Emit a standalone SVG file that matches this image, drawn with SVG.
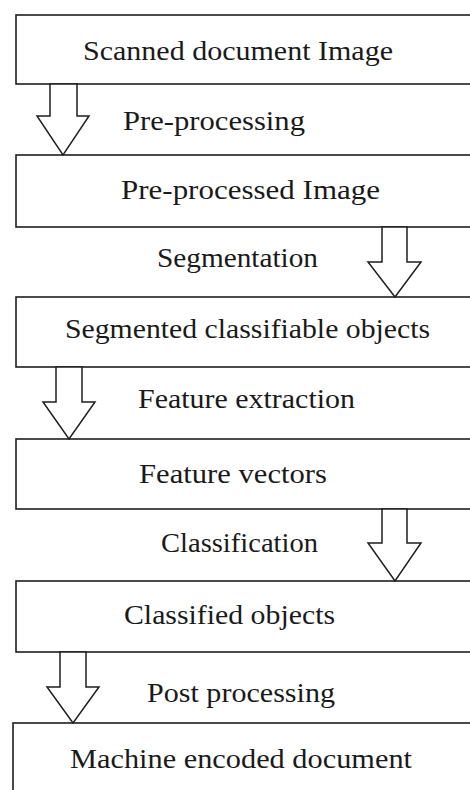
<svg xmlns="http://www.w3.org/2000/svg" width="470" height="790" viewBox="0 0 470 790">
<style>
.box{fill:#fff;stroke:#1e1e1e;stroke-width:1.6}
.arr{fill:#fff;stroke:#1e1e1e;stroke-width:1.5;stroke-linejoin:miter}
.t{font-family:'Liberation Serif',serif;font-size:28px;fill:#1a1a1a}
</style>
<rect width="470" height="790" fill="#fff"/>
<g id="n1"><rect class="box" x="16" y="15" width="470" height="69"/><text class="t" x="83" y="60" textLength="310" lengthAdjust="spacingAndGlyphs">Scanned document Image</text></g>
<g id="n2"><rect class="box" x="16" y="155" width="470" height="72"/><text class="t" x="121" y="199" textLength="259" lengthAdjust="spacingAndGlyphs">Pre-processed Image</text></g>
<g id="n3"><rect class="box" x="16" y="297" width="470" height="70"/><text class="t" x="65" y="338" textLength="365" lengthAdjust="spacingAndGlyphs">Segmented classifiable objects</text></g>
<g id="n4"><rect class="box" x="16" y="439" width="470" height="70"/><text class="t" x="139" y="483" textLength="188" lengthAdjust="spacingAndGlyphs">Feature vectors</text></g>
<g id="n5"><rect class="box" x="16" y="581" width="470" height="71"/><text class="t" x="124" y="624" textLength="211" lengthAdjust="spacingAndGlyphs">Classified objects</text></g>
<g id="n6"><rect class="box" x="13" y="723" width="470" height="80"/><text class="t" x="70" y="768" textLength="342" lengthAdjust="spacingAndGlyphs">Machine encoded document</text></g>
<g id="connectors">
<polygon class="arr" points="50,84 77,84 77,116 89,116 63,155 37,116 50,116"/>
<text class="t" x="123" y="130" textLength="182" lengthAdjust="spacingAndGlyphs">Pre-processing</text>
<polygon class="arr" points="382,227 407,227 407,262 421,262 395,297 368,262 382,262"/>
<text class="t" x="157" y="267" textLength="161" lengthAdjust="spacingAndGlyphs">Segmentation</text>
<polygon class="arr" points="56,367 82,367 82,402 95,402 69,439 43,402 56,402"/>
<text class="t" x="138" y="408" textLength="217" lengthAdjust="spacingAndGlyphs">Feature extraction</text>
<polygon class="arr" points="382,509 407,509 407,543 421,543 395,581 368,543 382,543"/>
<text class="t" x="161" y="552" textLength="157" lengthAdjust="spacingAndGlyphs">Classification</text>
<polygon class="arr" points="60,652 86,652 86,687 99,687 73,723 47,687 60,687"/>
<text class="t" x="147" y="702" textLength="188" lengthAdjust="spacingAndGlyphs">Post processing</text>
</g>
</svg>
